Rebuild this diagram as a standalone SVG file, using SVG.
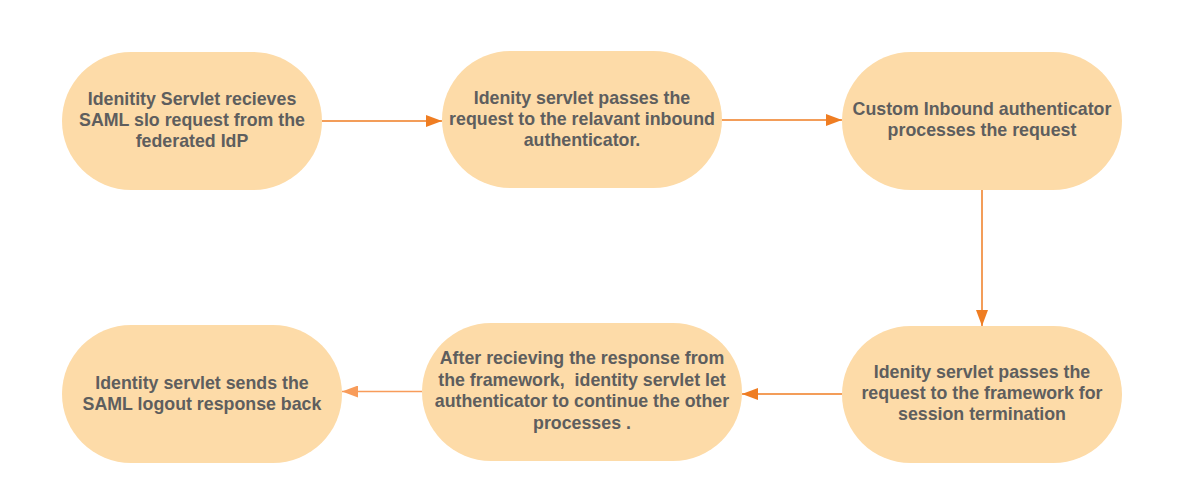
<svg xmlns="http://www.w3.org/2000/svg" width="1199" height="491" viewBox="0 0 1199 491">
<style>
.node{fill:#fddba8;}
.lbl{font-family:"Liberation Sans",Arial,sans-serif;font-weight:bold;font-size:17.8px;fill:#5e5e5e;text-anchor:middle;white-space:pre;}
.edge{stroke:#ef7d22;stroke-width:1.5;fill:none;}
.edge2{stroke:#f89c5a;stroke-width:1.5;fill:none;}
</style>
<defs>
<marker id="ah" markerWidth="16" markerHeight="12" refX="16" refY="6" orient="auto" markerUnits="userSpaceOnUse">
<path d="M0,0 L16,6 L0,12 Z" fill="#ef7d22"/>
</marker>
<marker id="ah2" markerWidth="16" markerHeight="12" refX="16" refY="6" orient="auto" markerUnits="userSpaceOnUse">
<path d="M0,0 L16,6 L0,12 Z" fill="#f89c5a"/>
</marker>
</defs>
<rect width="1199" height="491" fill="#ffffff"/>
<g id="connectors">
<path class="edge" d="M322,121 L442,121" marker-end="url(#ah)"/>
<path class="edge" d="M722,120 L842,120" marker-end="url(#ah)"/>
<path class="edge" d="M982,190 L982,326" marker-end="url(#ah)"/>
<path class="edge" d="M842,394 L742,394" marker-end="url(#ah)"/>
<path class="edge2" d="M422,391.5 L342,391.5" marker-end="url(#ah2)"/>
</g>
<g id="n1">
<rect class="node" x="62" y="52" width="260" height="138" rx="69"/>
<text class="lbl" x="192" y="104.5">Idenitity Servlet recieves</text>
<text class="lbl" x="192" y="125.5">SAML slo request from the</text>
<text class="lbl" x="192" y="146.5">federated IdP</text>
</g>
<g id="n2">
<rect class="node" x="442" y="51" width="280" height="137" rx="68.5"/>
<text class="lbl" x="582" y="103.5">Idenity servlet passes the</text>
<text class="lbl" x="582" y="124.5">request to the relavant inbound</text>
<text class="lbl" x="582" y="146">authenticator.</text>
</g>
<g id="n3">
<rect class="node" x="842" y="52" width="280" height="138" rx="69"/>
<text class="lbl" x="982" y="114.5">Custom Inbound authenticator</text>
<text class="lbl" x="982" y="135.5">processes the request</text>
</g>
<g id="n4">
<rect class="node" x="842" y="326" width="280" height="137" rx="68.5"/>
<text class="lbl" x="982" y="377.5">Idenity servlet passes the</text>
<text class="lbl" x="982" y="398.5">request to the framework for</text>
<text class="lbl" x="982" y="419.5">session termination</text>
</g>
<g id="n5">
<rect class="node" x="422" y="323" width="320" height="138" rx="69"/>
<text class="lbl" x="582" y="364">After recieving the response from</text>
<text class="lbl" x="582" y="385.5">the framework,  identity servlet let</text>
<text class="lbl" x="582" y="407">authenticator to continue the other</text>
<text class="lbl" x="582" y="429">processes .</text>
</g>
<g id="n6">
<rect class="node" x="62" y="325" width="280" height="138" rx="69"/>
<text class="lbl" x="202" y="388.5">Identity servlet sends the</text>
<text class="lbl" x="202" y="409.5">SAML logout response back</text>
</g>
</svg>
